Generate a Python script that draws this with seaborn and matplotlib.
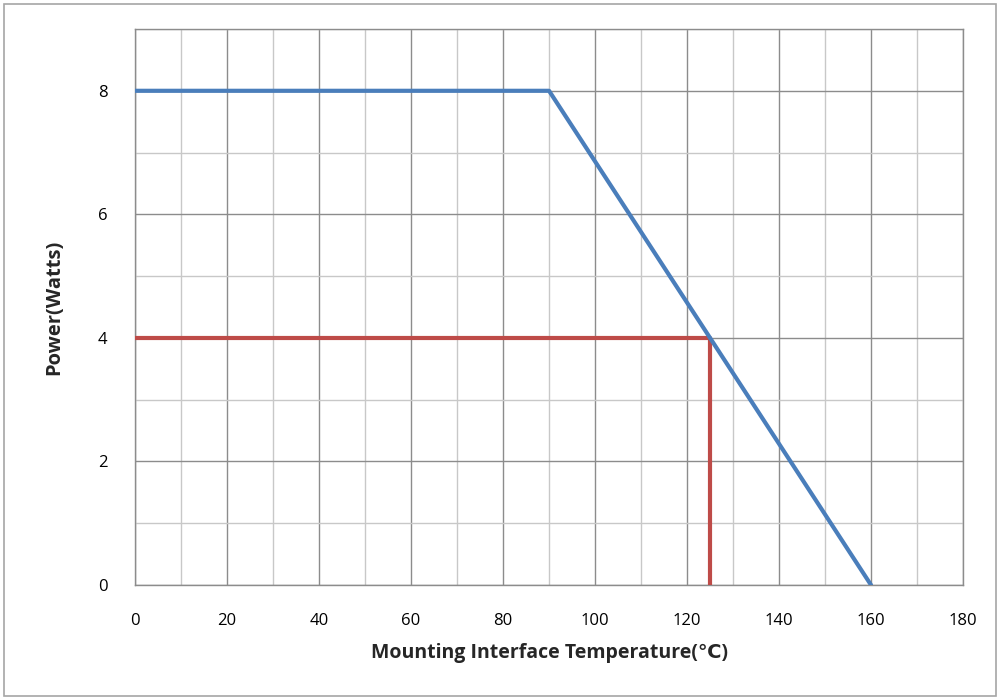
import pandas as pd
import matplotlib.pyplot as plt
import seaborn as sns
from matplotlib.patches import Rectangle

# derating curve
temp_c = [0, 90, 160]
power_w = [8, 8, 0]
# operating point marker lines
op_temp = [0, 125, 125]
op_power = [4, 4, 0]

x_ticks = list(range(0, 181, 20))
y_ticks = [0, 2, 4, 6, 8]

sns.set_theme(style="white")
plt.rcParams['font.family'] = ['Open Sans', 'DejaVu Sans']

fig = plt.figure(figsize=(9.98, 6.99), dpi=100)
ax = fig.add_axes([0.1353, 0.163, 0.8297, 0.7955])

curve = pd.DataFrame({'temp': temp_c, 'power': power_w})
op = pd.DataFrame({'temp': op_temp, 'power': op_power})

sns.lineplot(data=op, x='temp', y='power', sort=False, estimator=None,
             color='#be4b48', linewidth=3, ax=ax, zorder=3)
sns.lineplot(data=curve, x='temp', y='power', sort=False, estimator=None,
             color='#4a7ebb', linewidth=3, ax=ax, zorder=4)

ax.set_xlim(0, 180)
ax.set_ylim(0, 9)
ax.set_xticks(x_ticks)
ax.set_yticks(y_ticks)
ax.set_xticks(range(10, 180, 20), minor=True)
ax.set_yticks(range(1, 10, 2), minor=True)
ax.grid(True, which='major', color='#8c8c8c', linewidth=1)
ax.grid(True, which='minor', color='#c8c8c8', linewidth=1)
ax.set_axisbelow(True)
for s in ax.spines.values():
    s.set_visible(True)
    s.set_color('#8c8c8c')
    s.set_linewidth(1)
ax.tick_params(axis='both', which='both', length=0, labelsize=12, colors='#000000')
ax.tick_params(axis='x', pad=20)
ax.tick_params(axis='y', pad=20)

ax.set_xlabel('Mounting Interface Temperature(℃)', fontsize=14, fontweight='bold',
              labelpad=10, family=['Open Sans', 'DejaVu Sans', 'Noto Sans CJK SC'])
ax.set_ylabel('Power(Watts)', fontsize=14.5, fontweight='bold', labelpad=24)

fig.patches.append(Rectangle((0.004, 0.004), 0.994, 0.99, transform=fig.transFigure,
                             fill=False, edgecolor='#a6a6a6', linewidth=1.2))

fig.savefig('out.png', dpi=100)
